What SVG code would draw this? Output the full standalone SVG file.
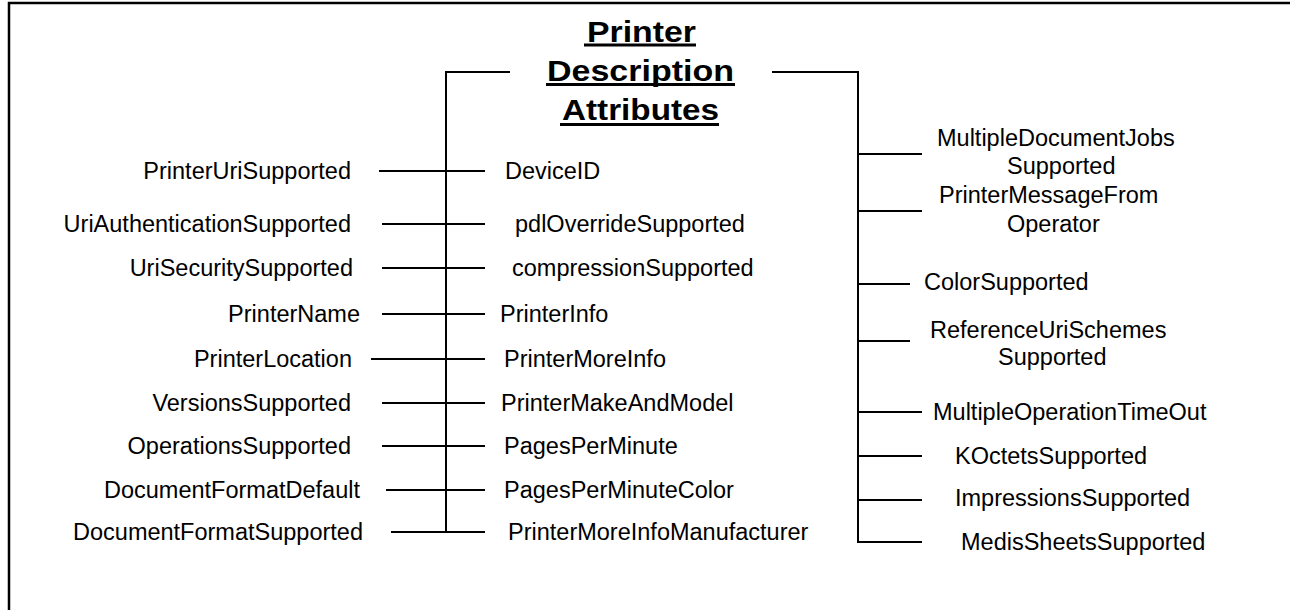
<svg xmlns="http://www.w3.org/2000/svg" width="1290" height="610" viewBox="0 0 1290 610">
<style>
  text { font-family: "Liberation Sans", Arial, Helvetica, sans-serif; fill: #000; }
  .t { font-size: 23.5px; }
  .l { font-size: 23.5px; text-anchor: end; }
  .title { font-size: 30px; font-weight: bold; }
  .ln { stroke: #000; stroke-width: 2; fill: none; }
  .ul { stroke: #000; stroke-width: 3; }
</style>
<rect x="9" y="3" width="1400" height="700" fill="#fff" stroke="#000" stroke-width="2.5"/>

<g id="connectors">
  <!-- left tree -->
  <path class="ln" d="M510 72 H446 V532"/>
  <line class="ln" x1="379" y1="171" x2="485" y2="171"/>
  <line class="ln" x1="382" y1="224" x2="485" y2="224"/>
  <line class="ln" x1="382" y1="268" x2="485" y2="268"/>
  <line class="ln" x1="382" y1="314" x2="485" y2="314"/>
  <line class="ln" x1="371" y1="359" x2="485" y2="359"/>
  <line class="ln" x1="382" y1="403" x2="485" y2="403"/>
  <line class="ln" x1="382" y1="446" x2="485" y2="446"/>
  <line class="ln" x1="386" y1="490" x2="485" y2="490"/>
  <line class="ln" x1="391" y1="532" x2="485" y2="532"/>
  <!-- right tree -->
  <path class="ln" d="M772 72 H858 V542 H922"/>
  <line class="ln" x1="858" y1="154" x2="922" y2="154"/>
  <line class="ln" x1="858" y1="211" x2="922" y2="211"/>
  <line class="ln" x1="858" y1="284" x2="910" y2="284"/>
  <line class="ln" x1="858" y1="341" x2="910" y2="341"/>
  <line class="ln" x1="858" y1="412" x2="922" y2="412"/>
  <line class="ln" x1="858" y1="456" x2="922" y2="456"/>
  <line class="ln" x1="858" y1="500" x2="922" y2="500"/>
</g>

<g id="title">
  <text class="title" x="587" y="41.5" textLength="109" lengthAdjust="spacingAndGlyphs">Printer</text>
  <text class="title" x="547" y="80.5" textLength="187" lengthAdjust="spacingAndGlyphs">Description</text>
  <text class="title" x="562" y="120" textLength="157" lengthAdjust="spacingAndGlyphs">Attributes</text>
  <line class="ul" x1="584" y1="45" x2="696" y2="45"/>
  <line class="ul" x1="546" y1="84.5" x2="735" y2="84.5"/>
  <line class="ul" x1="560" y1="124.5" x2="719" y2="124.5"/>
</g>

<g id="n-printerurisupported"><text class="l" x="351" y="179">PrinterUriSupported</text></g>
<g id="n-uriauthenticationsupported"><text class="l" x="351" y="232">UriAuthenticationSupported</text></g>
<g id="n-urisecuritysupported"><text class="l" x="353" y="276">UriSecuritySupported</text></g>
<g id="n-printername"><text class="l" x="360" y="322">PrinterName</text></g>
<g id="n-printerlocation"><text class="l" x="352" y="367">PrinterLocation</text></g>
<g id="n-versionssupported"><text class="l" x="351" y="411">VersionsSupported</text></g>
<g id="n-operationssupported"><text class="l" x="351" y="454">OperationsSupported</text></g>
<g id="n-documentformatdefault"><text class="l" x="360" y="498">DocumentFormatDefault</text></g>
<g id="n-documentformatsupported"><text class="l" x="363" y="540">DocumentFormatSupported</text></g>

<g id="n-deviceid"><text class="t" x="505" y="179">DeviceID</text></g>
<g id="n-pdloverridesupported"><text class="t" x="515" y="232">pdlOverrideSupported</text></g>
<g id="n-compressionsupported"><text class="t" x="512" y="276">compressionSupported</text></g>
<g id="n-printerinfo"><text class="t" x="500" y="322">PrinterInfo</text></g>
<g id="n-printermoreinfo"><text class="t" x="504" y="367">PrinterMoreInfo</text></g>
<g id="n-printermakeandmodel"><text class="t" x="501" y="411">PrinterMakeAndModel</text></g>
<g id="n-pagesperminute"><text class="t" x="504" y="454">PagesPerMinute</text></g>
<g id="n-pagesperminutecolor"><text class="t" x="504" y="498">PagesPerMinuteColor</text></g>
<g id="n-printermoreinfomanufacturer"><text class="t" x="508" y="540">PrinterMoreInfoManufacturer</text></g>

<g id="n-multipledocumentjobssupported">
  <text class="t" x="937" y="146">MultipleDocumentJobs</text>
  <text class="t" x="1007" y="174">Supported</text>
</g>
<g id="n-printermessagefromoperator">
  <text class="t" x="939" y="203">PrinterMessageFrom</text>
  <text class="t" x="1007" y="231.5">Operator</text>
</g>
<g id="n-colorsupported"><text class="t" x="924" y="289.5">ColorSupported</text></g>
<g id="n-referenceurischemessupported">
  <text class="t" x="930" y="337.5">ReferenceUriSchemes</text>
  <text class="t" x="998" y="365">Supported</text>
</g>
<g id="n-multipleoperationtimeout"><text class="t" x="933" y="420">MultipleOperationTimeOut</text></g>
<g id="n-koctetssupported"><text class="t" x="955" y="464">KOctetsSupported</text></g>
<g id="n-impressionssupported"><text class="t" x="955" y="506">ImpressionsSupported</text></g>
<g id="n-medissheetssupported"><text class="t" x="961" y="550">MedisSheetsSupported</text></g>
</svg>
